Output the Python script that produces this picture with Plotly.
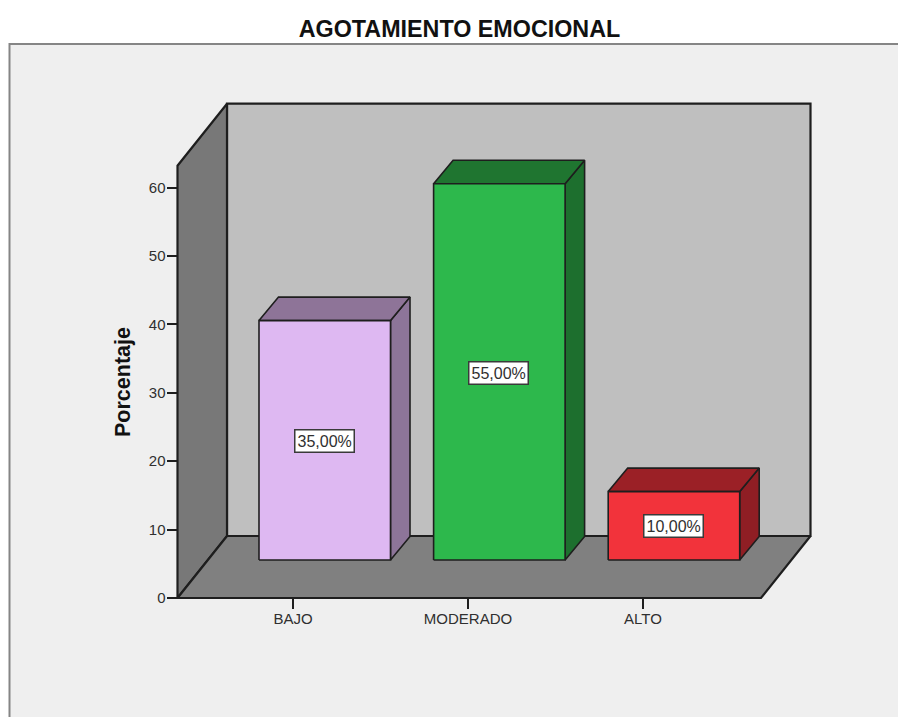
import plotly.graph_objects as go

# Chart content
categories = ["BAJO", "MODERADO", "ALTO"]
percentages = [35, 55, 10]
value_labels = ["35,00%", "55,00%", "10,00%"]
y_ticks = [0, 10, 20, 30, 40, 50, 60]
title_text = "AGOTAMIENTO EMOCIONAL"
y_title = "Porcentaje"

# Bar face colours per category: front, top, side
front_colors = ["#DEB8F2", "#2DB84C", "#F2333B"]
top_colors = ["#8E7498", "#1F7530", "#9B2026"]
side_colors = ["#8D7599", "#1D6F2E", "#8F1E24"]

# Figure and projection settings (x axis is in screen units, y axis in percent)
WIDTH, HEIGHT = 898, 717
BASE_PX = 598.0       # screen row of y = 0
PX_PER_UNIT = 6.84
LEFT, RIGHT_FRONT = 177.5, 761.0
WALL_DX, WALL_DY = 49.5, 62 / PX_PER_UNIT
WALL_TOP = 63.2
BAR_DX, BAR_DY = 19.5, 23.5 / PX_PER_UNIT
BAR_LIFT = 38 / PX_PER_UNIT
BAR_START, BAR_STEP, BAR_WIDTH = 259.0, 174.6, 131.5
TICK_START, TICK_STEP = 293.0, 175.0
EDGE = "#1E1E1E"
INK = "#303030"
FONT = "Liberation Sans, Arial, sans-serif"

fig = go.Figure()


def face(xs, ys, color, width=1.6):
    """Add one closed, outlined polygon of the 3D frame or a bar."""
    fig.add_trace(go.Scatter(
        x=xs + xs[:1], y=ys + ys[:1], mode="lines", fill="toself",
        fillcolor=color, line=dict(color=EDGE, width=width),
        hoverinfo="skip", showlegend=False,
    ))


# Back wall, left wall and floor of the chart box
back_l, back_r = LEFT + WALL_DX, RIGHT_FRONT + WALL_DX
face([back_l, back_r, back_r, back_l],
     [WALL_DY, WALL_DY, WALL_TOP + WALL_DY, WALL_TOP + WALL_DY], "#BFBFBF", 2.2)
face([LEFT, back_l, back_l, LEFT],
     [0, WALL_DY, WALL_TOP + WALL_DY, WALL_TOP], "#787878", 2.2)
face([LEFT, RIGHT_FRONT, back_r, back_l],
     [0, 0, WALL_DY, WALL_DY], "#808080", 2.2)

# Bars: side and top faces are offset from the front face by the bar depth
annotations = []
for i, value in enumerate(percentages):
    x0 = BAR_START + i * BAR_STEP
    x1 = x0 + BAR_WIDTH
    y0 = BAR_LIFT
    y1 = BAR_LIFT + value
    face([x1, x1 + BAR_DX, x1 + BAR_DX, x1],
         [y0, y0 + BAR_DY, y1 + BAR_DY, y1], side_colors[i])
    face([x0, x1, x1 + BAR_DX, x0 + BAR_DX],
         [y1, y1, y1 + BAR_DY, y1 + BAR_DY], top_colors[i])
    face([x0, x1, x1, x0], [y0, y0, y1, y1], front_colors[i])
    annotations.append(dict(
        x=(x0 + x1) / 2 - 0.5, y=(y0 + y1) / 2 - 0.1, text=value_labels[i],
        showarrow=False, font=dict(family=FONT, size=16, color=INK),
        bgcolor="#FFFFFF", bordercolor="#3A3A3A", borderwidth=1.5, borderpad=2,
    ))

# Vertical axis title, placed against the panel rather than the axis centre
annotations.append(dict(
    xref="paper", yref="paper", x=123 / WIDTH, y=1 - 382 / HEIGHT,
    xanchor="center", yanchor="middle",
    text=f"<b>{y_title}</b>", textangle=-90, showarrow=False,
    font=dict(family=FONT, size=21.5, color="#111111"),
))

fig.update_layout(
    width=WIDTH, height=HEIGHT, autosize=False,
    margin=dict(l=0, r=0, t=0, b=0),
    paper_bgcolor="#FFFFFF", plot_bgcolor="rgba(0,0,0,0)",
    showlegend=False,
    font=dict(family=FONT, color=INK),
    title=dict(
        text=f"<b>{title_text}</b>", x=459.5 / WIDTH, xanchor="center",
        y=1 - 29 / HEIGHT, yanchor="middle",
        font=dict(family=FONT, size=23.3, color="#111111"),
    ),
    xaxis=dict(
        range=[0, WIDTH], anchor="free", position=(HEIGHT - BASE_PX) / HEIGHT,
        tickmode="array",
        tickvals=[TICK_START + i * TICK_STEP for i in range(len(categories))],
        ticktext=categories, ticks="outside", ticklen=10, tickwidth=1.5,
        tickcolor=EDGE, showgrid=False, zeroline=False, showline=False,
        ticklabelstandoff=-3,
        tickfont=dict(family=FONT, size=15, color=INK),
    ),
    yaxis=dict(
        range=[-(HEIGHT - BASE_PX) / PX_PER_UNIT, BASE_PX / PX_PER_UNIT],
        anchor="free", position=LEFT / WIDTH,
        tickmode="array", tickvals=y_ticks, ticks="outside", ticklen=11,
        tickwidth=1.5, tickcolor=EDGE, showgrid=False, zeroline=False,
        showline=False, ticklabelstandoff=-2,
        tickfont=dict(family=FONT, size=15, color=INK),
    ),
    annotations=annotations,
    # Light panel behind the chart, running off the right and bottom edges
    shapes=[dict(
        type="rect", xref="paper", yref="paper", layer="below",
        x0=9.5 / WIDTH, x1=1.01, y0=-0.01, y1=1 - 44 / HEIGHT,
        fillcolor="#EFEFEF", line=dict(color="#858585", width=2),
    )],
)

fig.write_html("out.html")
